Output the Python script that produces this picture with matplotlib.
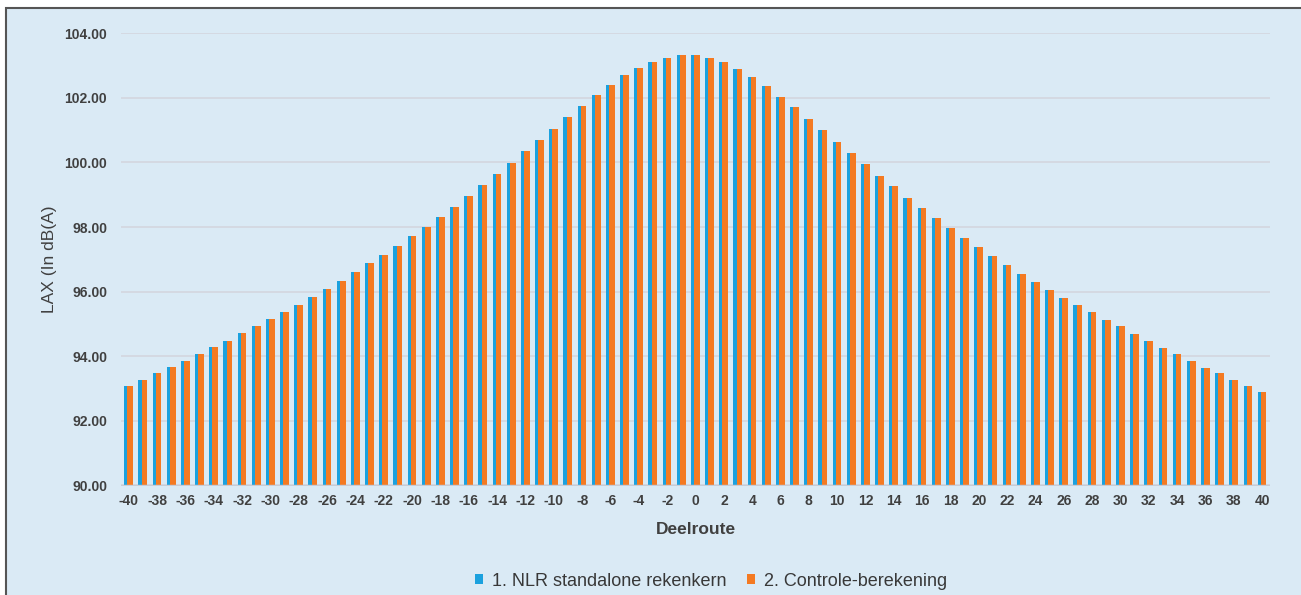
import matplotlib
matplotlib.use("Agg")
import matplotlib.pyplot as plt
from matplotlib.patches import Rectangle
import numpy as np

plt.rcParams['font.family'] = ['Liberation Sans', 'DejaVu Sans']

deelroute = list(range(-40, 41))
nlr = [93.08, 93.27, 93.47, 93.66, 93.86, 94.07, 94.28, 94.48, 94.71, 94.94,
       95.16, 95.38, 95.60, 95.84, 96.08, 96.34, 96.61, 96.88, 97.14, 97.42,
       97.71, 98.01, 98.32, 98.63, 98.97, 99.30, 99.64, 99.98, 100.35, 100.70,
       101.05, 101.41, 101.75, 102.10, 102.41, 102.70, 102.93, 103.11, 103.24, 103.32,
       103.32, 103.24, 103.10, 102.89, 102.66, 102.37, 102.04, 101.71, 101.36, 101.01,
       100.64, 100.28, 99.94, 99.59, 99.26, 98.91, 98.59, 98.28, 97.97, 97.67,
       97.39, 97.11, 96.83, 96.56, 96.30, 96.05, 95.81, 95.59, 95.36, 95.13,
       94.93, 94.70, 94.48, 94.27, 94.07, 93.85, 93.65, 93.47, 93.27, 93.08,
       92.90]
controle = list(nlr)
series_names = ["1. NLR standalone rekenkern", "2. Controle-berekening"]
yticks = [90, 92, 94, 96, 98, 100, 102, 104]
xtick_labels = list(range(-40, 41, 2))

BG = "#DAEAF5"
BLUE = "#1BA1DE"
ORANGE = "#F47A22"
TXT = "#404040"

fig = plt.figure(figsize=(13.01, 5.95), dpi=100, facecolor="white")
fig.patches.append(Rectangle((6/1301, -0.1), 1.2, (595-8.5)/595 + 0.1,
                             transform=fig.transFigure, facecolor=BG,
                             edgecolor="#555555", linewidth=1.5, zorder=-10))

ax = fig.add_axes([121/1301, 1-485.5/595, (1270-121)/1301, (485.5-33.3)/595])
ax.set_zorder(5)
ax.patch.set_alpha(0)

x = np.array(deelroute, dtype=float)
ax.bar(x - 0.11, np.array(nlr) - 90, width=0.42, bottom=90, color=BLUE,
       label=series_names[0], zorder=2, linewidth=0)
ax.bar(x + 0.10, np.array(controle) - 90, width=0.40, bottom=90, color=ORANGE,
       label=series_names[1], zorder=3, linewidth=0)

ax.set_xlim(-40.55, 40.55)
ax.set_ylim(90, 104)
ax.set_yticks(yticks)
ax.set_yticklabels([f"{v:.2f}" for v in yticks], fontsize=10, fontweight="bold", color=TXT)
ax.set_xticks(xtick_labels)
ax.set_xticklabels([str(v) for v in xtick_labels], fontsize=10, fontweight="bold", color=TXT)
ax.tick_params(axis="both", length=0)
ax.tick_params(axis="y", pad=10)
ax.tick_params(axis="x", pad=6)
ax.grid(axis="y", color="#D3D6DF", linewidth=1.2, zorder=1)
for s in ax.spines.values():
    s.set_visible(False)
ax.axhline(90, color="#C8CCD6", linewidth=1.0, zorder=4)

ax.set_xlabel("Deelroute", fontsize=12.5, fontweight="bold", color=TXT, labelpad=10)
ax.set_ylabel("LAX (In dB(A)", fontsize=12.5, color=TXT, labelpad=5)

leg = fig.legend(loc="center", bbox_to_anchor=(711/1301, 1-581/595), ncol=2,
                 frameon=False, handlelength=0.45, handleheight=0.45,
                 handletextpad=0.5, columnspacing=1.1, labelcolor="#383838",
                 prop={'size': 13})
leg.set_zorder(6)

fig.savefig("out.png", dpi=100, facecolor="white")
